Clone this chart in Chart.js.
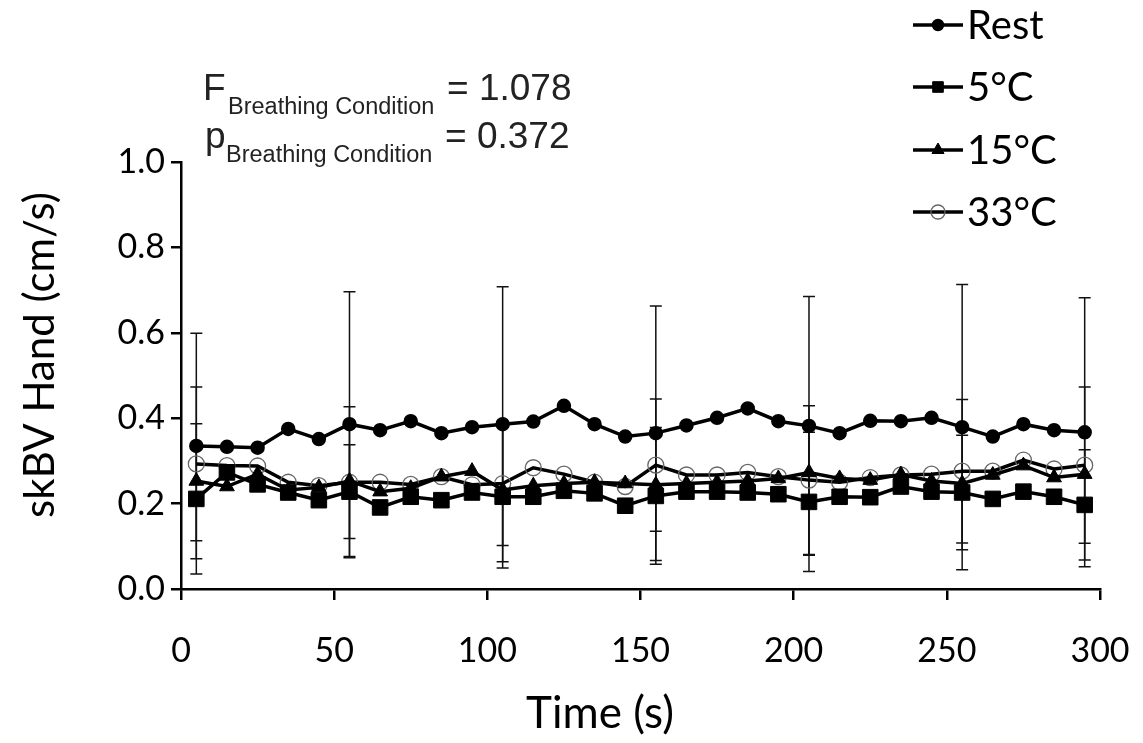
<!DOCTYPE html>
<html>
<head>
<meta charset="utf-8">
<script src="https://cdn.jsdelivr.net/npm/chart.js@4.4.1/dist/chart.umd.min.js"></script>
<style>
  html, body { margin: 0; padding: 0; background: #fff; }
  #wrap { width: 1143px; height: 743px; }
</style>
</head>
<body>
<div id="wrap"><canvas id="skbvChart" width="1143" height="743"></canvas></div>
<script>
// time points (s)
const times = [5, 15, 25, 35, 45, 55, 65, 75, 85, 95, 105, 115, 125, 135, 145,
               155, 165, 175, 185, 195, 205, 215, 225, 235, 245, 255, 265, 275, 285, 295];

const restValues = [0.335, 0.333, 0.331, 0.375, 0.351, 0.386, 0.372, 0.393, 0.365, 0.379,
                    0.386, 0.392, 0.429, 0.386, 0.357, 0.365, 0.383, 0.401, 0.423, 0.393,
                    0.382, 0.365, 0.394, 0.393, 0.401, 0.379, 0.357, 0.386, 0.372, 0.367];
const c5Values = [0.211, 0.273, 0.245, 0.226, 0.208, 0.228, 0.191, 0.216, 0.208, 0.226,
                  0.216, 0.216, 0.230, 0.224, 0.195, 0.218, 0.228, 0.228, 0.226, 0.222,
                  0.204, 0.216, 0.215, 0.240, 0.228, 0.226, 0.211, 0.228, 0.216, 0.197];
const c15Values = [0.253, 0.240, 0.269, 0.232, 0.238, 0.253, 0.228, 0.236, 0.263, 0.276,
                   0.232, 0.242, 0.247, 0.250, 0.247, 0.244, 0.247, 0.250, 0.253, 0.259,
                   0.273, 0.259, 0.255, 0.268, 0.253, 0.247, 0.267, 0.289, 0.261, 0.269];
const c33Values = [0.293, 0.289, 0.288, 0.250, 0.242, 0.250, 0.250, 0.245, 0.263, 0.244,
                   0.247, 0.284, 0.269, 0.250, 0.240, 0.290, 0.267, 0.267, 0.273, 0.263,
                   0.255, 0.250, 0.261, 0.267, 0.269, 0.276, 0.276, 0.302, 0.281, 0.290];

// SD bars, only shown at these times
const errTimes = [5, 55, 105, 155, 205, 255, 295];
const restErr = [0.264, 0.310, 0.322, 0.298, 0.303, 0.334, 0.315];
const c5Err = [0.176, 0.110, 0.167, 0.160, 0.163, 0.134, 0.129];
const c15Err = [null, null, null, null, null, null, null];
const c33Err = [0.180, 0.177, 0.145, 0.155, 0.174, 0.168, 0.183];

const xTicks = [0, 50, 100, 150, 200, 250, 300];
const yTicks = [0.0, 0.2, 0.4, 0.6, 0.8, 1.0];

const legendLabels = ['Rest', '5°C', '15°C', '33°C'];

const tickFont = { family: 'Lato', size: 34 };

function toPoints(vals) {
    return vals.map((v, i) => ({ x: times[i], y: v }));
}

const errorBars = {
    id: 'errorBars',
    beforeDatasetsDraw(chart) {
        const ctx = chart.ctx;
        const xs = chart.scales.x, ys = chart.scales.y;
        ctx.save();
        ctx.strokeStyle = '#111';
        ctx.lineWidth = 1.5;
        chart.data.datasets.forEach(ds => {
            errTimes.forEach((t, k) => {
                const sd = ds.errors[k];
                if (sd == null) return;
                const idx = times.indexOf(t);
                const v = ds.data[idx].y;
                const px = xs.getPixelForValue(t);
                const top = ys.getPixelForValue(v + sd);
                const bot = ys.getPixelForValue(v - sd);
                ctx.beginPath();
                ctx.moveTo(px, top); ctx.lineTo(px, bot);
                ctx.moveTo(px - 6, top); ctx.lineTo(px + 6, top);
                ctx.moveTo(px - 6, bot); ctx.lineTo(px + 6, bot);
                ctx.stroke();
            });
        });
        ctx.restore();
    }
};

const sideText = {
    id: 'sideText',
    afterDraw(chart) {
        const ctx = chart.ctx;
        ctx.save();
        ctx.fillStyle = '#222';
        ctx.textBaseline = 'alphabetic';
        ctx.textAlign = 'left';
        ctx.font = '37px "Liberation Sans"';
        ctx.fillText('F', 203, 100);
        ctx.fillText('= 1.078', 447, 100);
        ctx.fillText('p', 205, 148);
        ctx.fillText('= 0.372', 445, 148);
        ctx.font = '23.5px "Liberation Sans"';
        ctx.fillText('Breathing Condition', 228, 114);
        ctx.fillText('Breathing Condition', 226, 162);

        // axis titles
        ctx.fillStyle = '#000';
        ctx.textAlign = 'center';
        ctx.textBaseline = 'middle';
        ctx.font = '44px Lato';
        ctx.fillText('Time (s)', 600, 714);
        ctx.save();
        ctx.translate(40, 355);
        ctx.rotate(-Math.PI / 2);
        ctx.font = '42px Lato';
        ctx.fillText('skBV Hand (cm/s)', 0, 0);
        ctx.restore();

        // legend: line with marker, label to the right
        ctx.textAlign = 'left';
        const rows = [25, 87, 150, 212];
        chart.data.datasets.forEach((ds, i) => {
            const y = rows[i];
            ctx.strokeStyle = '#000';
            ctx.lineWidth = 3.5;
            ctx.beginPath();
            ctx.moveTo(913, y); ctx.lineTo(963, y);
            ctx.stroke();
            ctx.fillStyle = ds.pointBackgroundColor;
            ctx.strokeStyle = ds.pointBorderColor;
            ctx.lineWidth = ds.pointBorderWidth;
            ctx.beginPath();
            if (ds.pointStyle === 'circle') {
                ctx.arc(938, y, ds.legendRadius, 0, Math.PI * 2);
            } else if (ds.pointStyle === 'rect') {
                const s = ds.legendRadius * Math.SQRT1_2;
                ctx.rect(938 - s, y - s, 2 * s, 2 * s);
            } else {
                const r = ds.legendRadius;
                ctx.moveTo(938, y - r);
                ctx.lineTo(938 + r * 0.866, y + r * 0.5);
                ctx.lineTo(938 - r * 0.866, y + r * 0.5);
                ctx.closePath();
            }
            if (ds.pointBackgroundColor !== 'transparent') ctx.fill();
            ctx.stroke();
            ctx.fillStyle = '#000';
            ctx.font = '40px Lato';
            ctx.textBaseline = 'middle';
            ctx.fillText(legendLabels[i], 967, y + 1);
        });
        ctx.restore();
    }
};

function makeSet(label, vals, errs, style, radius, legendRadius, fill, border, bw) {
    return {
        label: label,
        data: toPoints(vals),
        errors: errs,
        borderColor: '#000',
        borderWidth: 3.5,
        pointStyle: style,
        pointRadius: radius,
        pointHoverRadius: radius,
        legendRadius: legendRadius,
        pointBackgroundColor: fill,
        pointBorderColor: border,
        pointBorderWidth: bw,
        tension: 0,
        fill: false
    };
}

function initializeChart() {
    const ctx = document.getElementById('skbvChart').getContext('2d');
    new Chart(ctx, {
        type: 'line',
        data: {
            datasets: [
                makeSet('Rest', restValues, restErr, 'circle', 6.5, 5.5, '#000', '#000', 1.5),
                makeSet('5°C', c5Values, c5Err, 'rect', 11, 7.5, '#000', '#000', 1),
                makeSet('15°C', c15Values, c15Err, 'triangle', 8.5, 7, '#000', '#000', 1),
                makeSet('33°C', c33Values, c33Err, 'circle', 8, 7, 'transparent', '#666', 1.3)
            ]
        },
        options: {
            responsive: false,
            animation: false,
            layout: { padding: { top: 162, right: 43, left: 0, bottom: 0 } },
            plugins: {
                legend: { display: false },
                tooltip: { enabled: false }
            },
            scales: {
                x: {
                    type: 'linear',
                    min: 0,
                    max: 300,
                    afterBuildTicks: (s) => { s.ticks = xTicks.map(v => ({ value: v })); },
                    afterFit: (s) => {
                        s.height = 743 - 589;
                        s.paddingLeft = 0;
                        s.paddingRight = 0;
                    },
                    border: { color: '#000', width: 2.5 },
                    grid: { drawOnChartArea: false, color: '#000', lineWidth: 2.5, tickLength: 11 },
                    ticks: { color: '#000', font: tickFont, padding: 31, maxRotation: 0 },
                    title: { display: false }
                },
                y: {
                    min: 0,
                    max: 1.0,
                    afterBuildTicks: (s) => { s.ticks = yTicks.map(v => ({ value: v })); },
                    afterFit: (s) => {
                        s.width = 181;
                        s.paddingTop = 0;
                        s.paddingBottom = 0;
                    },
                    border: { color: '#000', width: 2.5 },
                    grid: { drawOnChartArea: false, color: '#000', lineWidth: 2.5, tickLength: 10 },
                    ticks: { color: '#000', font: tickFont, padding: 6, callback: (v) => v.toFixed(1) },
                    title: { display: false }
                }
            }
        },
        plugins: [errorBars, sideText]
    });
}

document.addEventListener('DOMContentLoaded', initializeChart);
</script>
</body>
</html>
